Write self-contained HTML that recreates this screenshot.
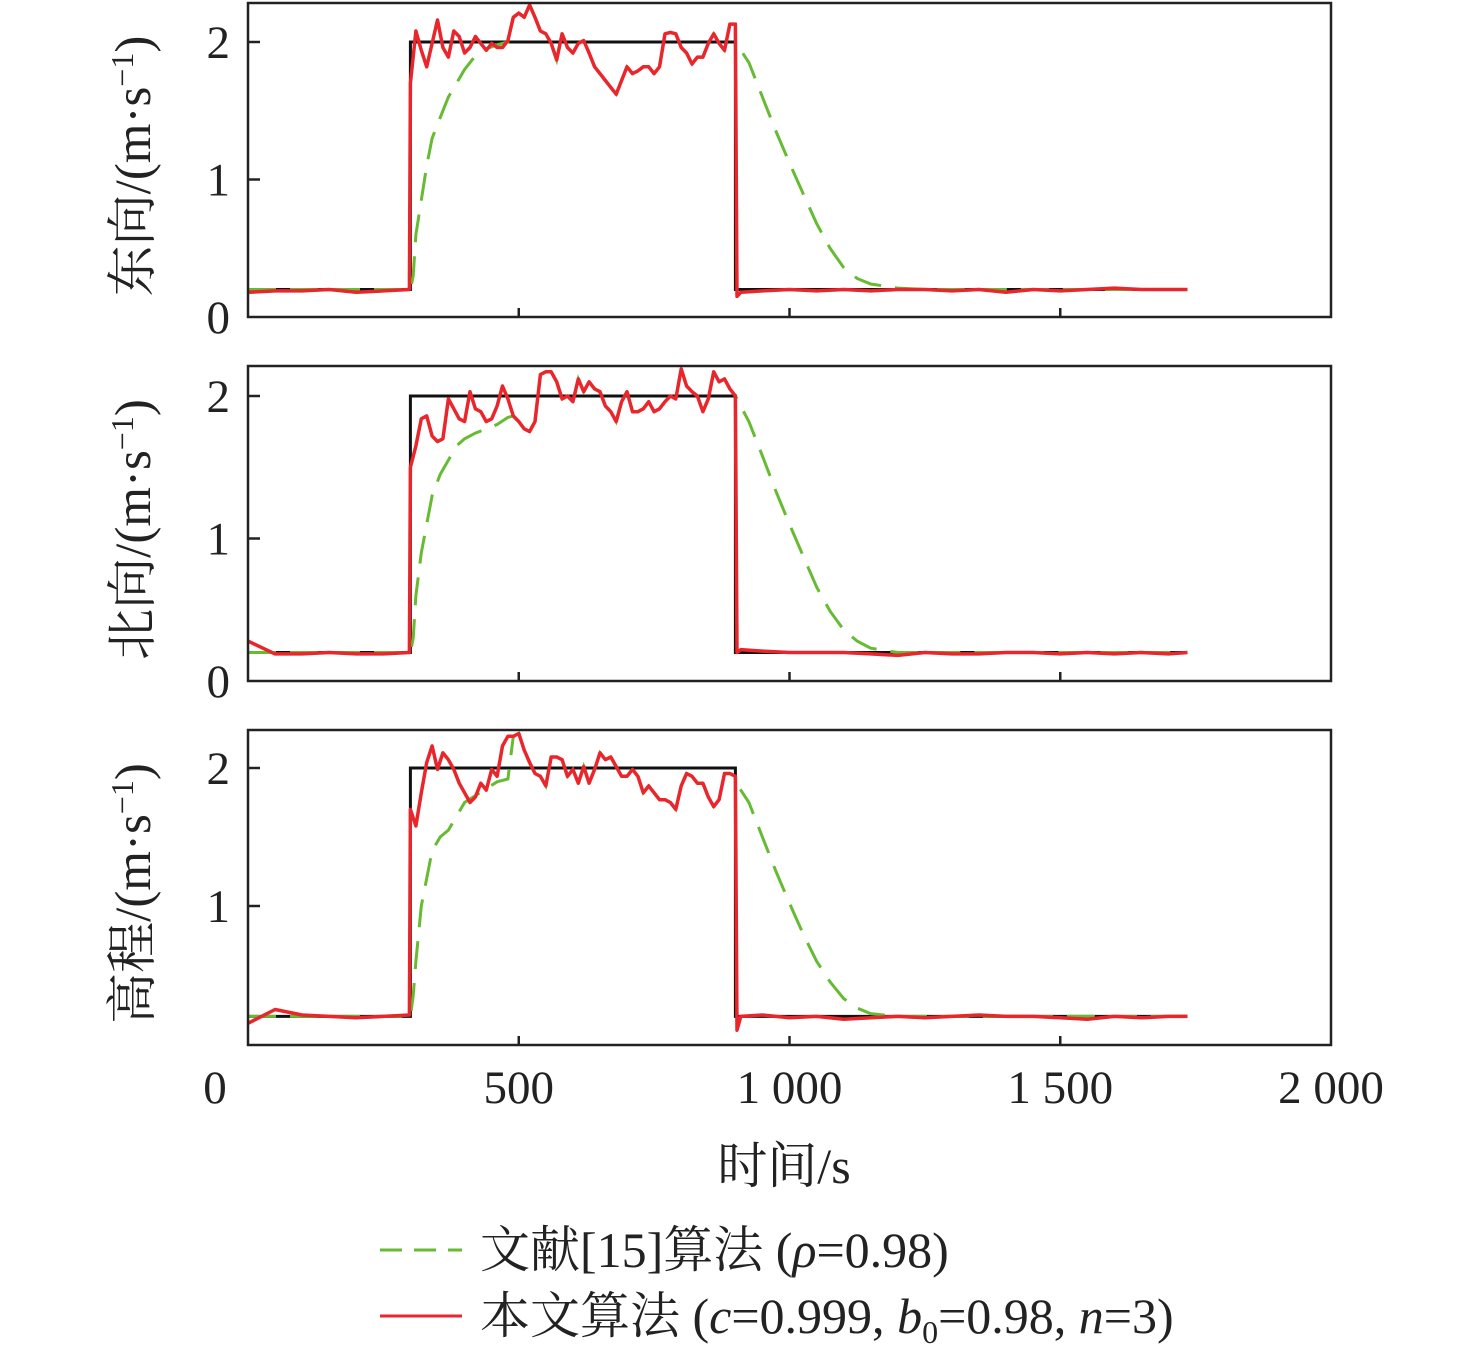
<!DOCTYPE html>
<html><head><meta charset="utf-8"><style>
html,body{margin:0;padding:0;background:#fff}
svg{display:block}
text{font-family:"Liberation Serif","Noto Serif CJK SC",serif;fill:#222}
</style></head><body>
<svg id="chart" width="1476" height="1358" viewBox="0 0 1476 1358" xmlns="http://www.w3.org/2000/svg"></svg>
<script>
// ---- data ----
const xTicks=[0,500,1000,1500,2000];
const xTickLabels=["0","500","1 000","1 500","2 000"];
const yTicks=[0,1,2];
const panelLabels=["东向","北向","高程"];
const refLevels=[0.2,2.0,0.2];
const refTimes=[0,300,900,1735];
const onTimesStart=300, onStep=10;
const preTimes=[0,50,100,150,200,250,298];
const postTimes=[900,903,910,950,1000,1050,1100,1150,1200,1250,1300,1350,1400,1450,1500,1550,1600,1650,1700,1735];
const red1Pre=[0.18,0.19,0.19,0.2,0.18,0.19,0.2];
const red2Pre=[0.28,0.19,0.19,0.2,0.19,0.19,0.2];
const red3Pre=[0.15,0.25,0.21,0.2,0.19,0.2,0.21];
const red1On=[1.7,2.08,1.94,1.82,1.99,2.16,1.96,1.89,2.08,2.04,1.92,1.96,2.04,1.99,1.94,1.99,1.96,1.96,2.01,2.18,2.21,2.18,2.27,2.18,2.08,2.06,1.99,1.87,2.06,1.96,1.92,1.99,2.01,1.92,1.82,1.77,1.72,1.67,1.62,1.72,1.82,1.77,1.79,1.82,1.82,1.77,1.82,2.06,2.07,2.06,1.96,1.92,1.84,1.89,1.89,1.99,2.06,1.99,1.94,2.13,2.13];
const red2On=[1.5,1.65,1.84,1.86,1.72,1.68,1.70,1.98,1.91,1.84,1.82,2.03,1.91,1.89,1.82,1.84,1.93,2.07,1.98,1.86,1.82,1.77,1.75,1.82,2.15,2.17,2.17,2.10,1.98,2.00,1.96,2.12,2.03,2.10,2.05,2.03,1.93,1.89,1.82,1.96,2.03,1.89,1.89,1.91,1.96,1.89,1.91,1.96,2.00,1.98,2.19,2.07,2.03,2.00,1.89,1.98,2.17,2.10,2.12,2.05,2.00];
const red3On=[1.7,1.58,1.82,2.04,2.16,1.99,2.11,2.06,1.99,1.89,1.82,1.75,1.79,1.89,1.84,1.99,1.94,2.16,2.23,2.23,2.25,2.13,2.04,1.96,1.94,1.87,2.08,2.08,2.06,1.94,1.99,1.89,2.01,1.89,1.99,2.11,2.06,2.08,2.01,1.94,1.94,1.99,1.94,1.82,1.87,1.82,1.77,1.77,1.75,1.70,1.87,1.96,1.94,1.89,1.89,1.79,1.72,1.77,1.96,1.96,1.94];
const red1Post=[2.1,0.15,0.18,0.19,0.2,0.19,0.2,0.19,0.2,0.2,0.19,0.2,0.18,0.2,0.19,0.2,0.21,0.2,0.2,0.2];
const red2Post=[2.0,0.2,0.22,0.21,0.2,0.2,0.2,0.19,0.18,0.2,0.19,0.19,0.2,0.2,0.19,0.2,0.19,0.2,0.19,0.2];
const red3Post=[1.94,0.1,0.2,0.21,0.19,0.2,0.18,0.19,0.2,0.19,0.2,0.21,0.2,0.2,0.19,0.18,0.2,0.19,0.2,0.2];
const greenRiseTimes=[300,305,310,320,330,340,355,370,385,400,420,440,460,480];
const green1Rise=[0.2,0.3,0.6,0.85,1.1,1.3,1.45,1.6,1.7,1.8,1.9,1.95,1.98,2.0];
const green2Rise=[0.2,0.3,0.6,0.9,1.1,1.3,1.45,1.55,1.65,1.7,1.74,1.77,1.8,1.85];
const green3Rise=[0.2,0.35,0.6,1.0,1.2,1.4,1.5,1.55,1.65,1.75,1.8,1.85,1.9,1.92];
const greenDecayTimes=[900,925,950,975,1000,1025,1050,1075,1100,1125,1150,1200,1250,1300];
const green1Decay=[2.0,1.85,1.6,1.35,1.12,0.9,0.68,0.5,0.36,0.28,0.24,0.21,0.2,0.2];
const green2Decay=[2.0,1.82,1.58,1.33,1.1,0.88,0.66,0.49,0.36,0.28,0.23,0.2,0.2,0.2];
const green3Decay=[1.9,1.75,1.5,1.25,1.02,0.8,0.6,0.45,0.33,0.26,0.22,0.2,0.2,0.2];
const redPre=[red1Pre,red2Pre,red3Pre], redOn=[red1On,red2On,red3On], redPost=[red1Post,red2Post,red3Post];
const greenRise=[green1Rise,green2Rise,green3Rise], greenDecay=[green1Decay,green2Decay,green3Decay];

// ---- layout ----
const NS="http://www.w3.org/2000/svg";
const svg=document.getElementById('chart');
const X0=248,X1=1331;
const panels=[{top:3,bot:317,zero:317,ppu:137.5},{top:366,bot:681,zero:681,ppu:142.5},{top:730,bot:1045,zero:1044,ppu:138}];
const sx=t=>X0+(X1-X0)*t/2000;
function el(tag,attrs,parent){const e=document.createElementNS(NS,tag);for(const k in attrs)e.setAttribute(k,attrs[k]);(parent||svg).appendChild(e);return e;}
function pathD(ts,vs,sy){return ts.map((t,i)=>(i?'L':'M')+sx(t).toFixed(1)+' '+sy(vs[i]).toFixed(1)).join(' ');}

panels.forEach((p,k)=>{
  const sy=v=>p.zero-v*p.ppu;
  const g=el('g',{});
  
  
  const rt=[0,300,300,900,900,1735], rv=[0.2,0.2,2,2,0.2,0.2];
  const ref=el('path',{d:pathD(rt,rv,sy),fill:'none',stroke:'#111','stroke-width':3},g);
  
  
  const gOnT=[],gOnV=[];
  redOn[k].forEach((v,i)=>{const t=onTimesStart+i*onStep;if(t>480){gOnT.push(t);gOnV.push(v);}});
  const gt=[0,...greenRiseTimes,...gOnT,...greenDecayTimes,1735];
  const gv=[0.2,...greenRise[k],...gOnV,...greenDecay[k],0.2];
  const gp=el('path',{d:pathD(gt,gv,sy),fill:'none',stroke:'#66bb33','stroke-width':3,'stroke-dasharray':'28 14'},g);
  
  
  const onT=redOn[k].map((v,i)=>onTimesStart+i*onStep);
  const t=[...preTimes,...onT,...postTimes], v=[...redPre[k],...redOn[k],...redPost[k]];
  const rp=el('path',{d:pathD(t,v,sy),fill:'none',stroke:'#e8262b','stroke-width':3.5,'stroke-linejoin':'round'},g);
  
  
  const fr=el('rect',{x:X0,y:p.top,width:X1-X0,height:p.bot-p.top,fill:'none',stroke:'#222','stroke-width':2.5},g);
  
  
  xTicks.forEach(x=>{if(x>0&&x<2000){const tk=el('line',{x1:sx(x),x2:sx(x),y1:p.bot,y2:p.bot-9,stroke:'#222','stroke-width':2.5},g);
    
    }});
  yTicks.forEach(y=>{
    if(y>0){const tk=el('line',{x1:X0,x2:X0+12,y1:sy(y),y2:sy(y),stroke:'#222','stroke-width':2.5},g);
      
      }
    if(k<2||y>0){const tl=el('text',{x:230,y:sy(y)+16,'font-size':47,'text-anchor':'end'},g);tl.textContent=String(y);
      
      }
  });
  const cy=(p.top+p.bot)/2+6;
  const yt=el('text',{x:0,y:0,'font-size':51,'text-anchor':'middle',transform:`translate(150 ${cy}) rotate(-90)`},g);
  
  
  yt.innerHTML=panelLabels[k]+'/(m·s<tspan dy="-17" font-size="32">−1</tspan><tspan dy="17">)</tspan>';
});
xTicks.forEach((x,i)=>{const tl=el('text',{x:i===0?215:sx(x),y:1103,'font-size':47,'text-anchor':'middle'});tl.textContent=xTickLabels[i];
  
  });
const xt=el('text',{x:784,y:1183,'font-size':50,'text-anchor':'middle'});
xt.textContent='时间/s';


const lg=el('g',{});


const l1=el('line',{x1:380,x2:462,y1:1250,y2:1250,stroke:'#66bb33','stroke-width':3,'stroke-dasharray':'22 12'},lg);


const t1=el('text',{x:480,y:1267,'font-size':50},lg);
t1.innerHTML='文献[15]算法 (<tspan font-style="italic">ρ</tspan>=0.98)';


const l2=el('line',{x1:380,x2:462,y1:1316,y2:1316,stroke:'#e8262b','stroke-width':3},lg);


const t2=el('text',{x:480,y:1333,'font-size':50},lg);
t2.innerHTML='本文算法 (<tspan font-style="italic">c</tspan>=0.999, <tspan font-style="italic">b</tspan><tspan dy="10" font-size="32">0</tspan><tspan dy="-10">=0.98, </tspan><tspan font-style="italic">n</tspan>=3)';


</script>
</body></html>
